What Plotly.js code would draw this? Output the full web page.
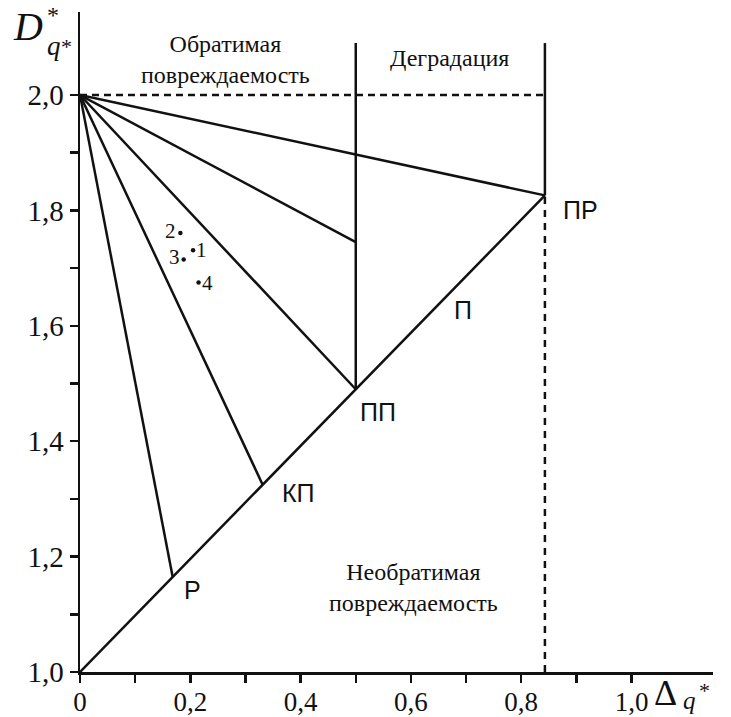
<!DOCTYPE html>
<html>
<head>
<meta charset="utf-8">
<script src="https://cdn.plot.ly/plotly-3.0.1.min.js"></script>
<style>html,body{margin:0;padding:0;background:#fff;}#chart{width:731px;height:717px;}</style>
</head>
<body>
<div id="chart"></div>
<script>
// ---- data ----
const originX = 0.0;
const originY = 2.0;
// fan line end points (from origin at (0, 2.0))
const fanEndX = [0.843, 0.5, 0.5, 0.331, 0.168];
const fanEndY = [1.826, 1.745, 1.49, 1.325, 1.165];
// main diagonal
const diagX = [0.0, 0.843];
const diagY = [1.0, 1.826];
// vertical boundaries
const vertX = [0.5, 0.843];
const vertBottomY = [1.49, 1.826];
const vertTopY = 2.09;
// dashed level lines
const dashHX = [0.0, 0.843];
const dashHY = [2.0, 2.0];
const dashVX = [0.843, 0.843];
const dashVY = [1.0, 1.826];
// experimental points
const ptX = [0.205, 0.182, 0.188, 0.215];
const ptY = [1.731, 1.761, 1.715, 1.675];
const ptLabels = ["1", "2", "3", "4"];
const ptSide = ["right", "left", "left", "right"];
// point/region letters
const letterText = ["ПР", "П", "ПП", "КП", "Р"];
const letterX = [0.907, 0.695, 0.541, 0.396, 0.204];
const letterY = [1.800, 1.627, 1.451, 1.310, 1.142];
const regionText = ["Обратимая<br>повреждаемость", "Деградация", "Необратимая<br>повреждаемость"];
const regionX = [0.264, 0.670, 0.605];
const regionY = [2.061, 2.064, 1.147];
// ticks
const xTickVals = [0, 0.2, 0.4, 0.6, 0.8, 1.0];
const xTickText = ["0", "0,2", "0,4", "0,6", "0,8", "1,0"];
const xMinorVals = [0.1, 0.3, 0.5, 0.7, 0.9];
const yTickVals = [1.0, 1.2, 1.4, 1.6, 1.8, 2.0];
const yTickText = ["1,0", "1,2", "1,4", "1,6", "1,8", "2,0"];
const yMinorVals = [1.1, 1.3, 1.5, 1.7, 1.9];

const SERIF = "'Liberation Serif', 'Times New Roman', serif";
const SANS = "'Liberation Sans', Arial, sans-serif";
const LW = 2.5;
const black = "#111";
const traces = [];
for (let i = 0; i < fanEndX.length; i++) {
  traces.push({x: [originX, fanEndX[i]], y: [originY, fanEndY[i]], mode: "lines",
    line: {color: black, width: LW}, hoverinfo: "skip", showlegend: false});
}
traces.push({x: diagX, y: diagY, mode: "lines", line: {color: black, width: LW}, showlegend: false});
for (let i = 0; i < vertX.length; i++) {
  traces.push({x: [vertX[i], vertX[i]], y: [vertBottomY[i], vertTopY], mode: "lines",
    line: {color: black, width: LW}, showlegend: false});
}
traces.push({x: dashHX, y: dashHY, mode: "lines", line: {color: black, width: 2.5, dash: "7px,5px"}, showlegend: false});
traces.push({x: dashVX, y: dashVY, mode: "lines", line: {color: black, width: 2.5, dash: "7px,6px"}, showlegend: false});
traces.push({x: ptX, y: ptY, mode: "markers", marker: {color: black, size: 4.5}, showlegend: false});

const annotations = [];
for (let i = 0; i < ptX.length; i++) {
  annotations.push({x: ptX[i], y: ptY[i], xref: "x", yref: "y", text: ptLabels[i], showarrow: false,
    xanchor: ptSide[i] === "right" ? "left" : "right", yanchor: "middle",
    xshift: ptSide[i] === "right" ? 1 : -2, yshift: ptSide[i] === "right" ? 0 : 2,
    font: {family: SERIF, size: 21, color: black}});
}
for (let i = 0; i < letterText.length; i++) {
  annotations.push({x: letterX[i], y: letterY[i], xref: "x", yref: "y", text: letterText[i], showarrow: false,
    xanchor: "center", yanchor: "middle", font: {family: SANS, size: 25, color: black}});
}
for (let i = 0; i < regionText.length; i++) {
  annotations.push({x: regionX[i], y: regionY[i], xref: "x", yref: "y", text: regionText[i], showarrow: false,
    xanchor: "center", yanchor: "middle", font: {family: SERIF, size: 24, color: black}});
}
// axis titles (pixel placement converted to paper coords)
const L = 80, T = 12, W = 633, H = 660;
function px(x) { return (x - L) / W; }
function py(y) { return (T + H - y) / H; }
function addTitle(t, x, y, size, italic) {
  annotations.push({x: px(x), y: py(y), xref: "paper", yref: "paper", text: t, showarrow: false,
    xanchor: "left", yanchor: "middle", borderpad: 0,
    font: {family: SERIF, size: size, color: black, style: italic ? "italic" : "normal"}});
}
addTitle("D", 12, 27, 40, true);
addTitle("*", 46, 15, 24, false);
addTitle("q", 46, 46, 27, true);
addTitle("*", 60, 47, 22, false);
addTitle("Δ", 653, 693, 36, false);
addTitle("q", 682, 700, 25, true);
addTitle("*", 698, 690, 22, false);

function axisStyle(range, tv, tt, mv, fsize, standoff) {
  return {range: range, showgrid: false, zeroline: false, showline: true, linecolor: black, linewidth: 2.5,
    tickmode: "array", tickvals: tv, ticktext: tt, ticks: "outside", ticklen: 8, tickwidth: 2.5, tickcolor: black,
    ticklabelstandoff: standoff,
    minor: {tickmode: "array", tickvals: mv, ticks: "outside", ticklen: 8, tickwidth: 2.5, tickcolor: black, showgrid: false},
    tickfont: {family: SERIF, size: fsize, color: black}};
}

const layout = {
  width: 731, height: 717,
  margin: {l: L, r: 731 - L - W, t: T, b: 717 - T - H},
  paper_bgcolor: "#fff", plot_bgcolor: "#fff",
  showlegend: false,
  xaxis: axisStyle([0, W / 551.5], xTickVals, xTickText, xMinorVals, 27, -4),
  yaxis: axisStyle([1, 1 + H / 577], yTickVals, yTickText, yMinorVals, 29, 0),
  annotations: annotations
};
Plotly.newPlot("chart", traces, layout, {displayModeBar: false, staticPlot: true});
</script>
</body>
</html>
